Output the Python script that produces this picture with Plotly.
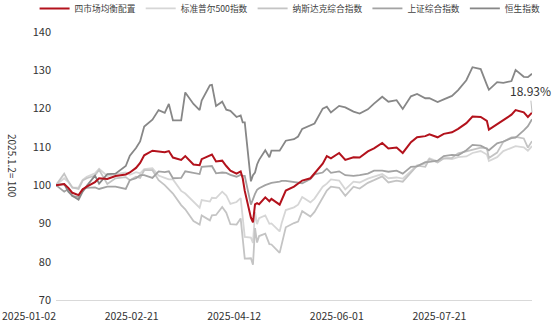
import plotly.graph_objects as go

dates = [
    "2025-01-02", "2025-01-06", "2025-01-08", "2025-01-10", "2025-01-13", "2025-01-15", "2025-01-17",
    "2025-01-21", "2025-01-23", "2025-01-27", "2025-01-31", "2025-02-05", "2025-02-07", "2025-02-10",
    "2025-02-12", "2025-02-14", "2025-02-18", "2025-02-21", "2025-02-24", "2025-02-26", "2025-02-28",
    "2025-03-04", "2025-03-06", "2025-03-10", "2025-03-13", "2025-03-14", "2025-03-18", "2025-03-19",
    "2025-03-21", "2025-03-24", "2025-03-26", "2025-03-28", "2025-03-31", "2025-04-02", "2025-04-03",
    "2025-04-04", "2025-04-07", "2025-04-08", "2025-04-09", "2025-04-10", "2025-04-11", "2025-04-14",
    "2025-04-16", "2025-04-17", "2025-04-21", "2025-04-22", "2025-04-24", "2025-04-28", "2025-04-30",
    "2025-05-02", "2025-05-06", "2025-05-08", "2025-05-12", "2025-05-14", "2025-05-16", "2025-05-20",
    "2025-05-23", "2025-05-27", "2025-05-30", "2025-06-03", "2025-06-06", "2025-06-10", "2025-06-13",
    "2025-06-17", "2025-06-20", "2025-06-24", "2025-06-27", "2025-07-01", "2025-07-03", "2025-07-07",
    "2025-07-10", "2025-07-14", "2025-07-17", "2025-07-21", "2025-07-24", "2025-07-28", "2025-07-31",
    "2025-08-01", "2025-08-05", "2025-08-08", "2025-08-12", "2025-08-14", "2025-08-18", "2025-08-20",
    "2025-08-22",
]

balanced = [
    100.0, 100.3, 99.3, 98.0, 97.4, 98.9, 99.6,
    100.8, 101.8, 101.6, 102.4, 102.8, 103.3, 104.5,
    105.8, 107.8, 109.0, 108.8, 108.6, 108.9, 107.2,
    106.6, 107.6, 105.4, 105.2, 106.8, 107.8, 108.0,
    106.2, 106.4, 105.0, 103.8, 103.0, 103.6, 101.8,
    98.5, 91.5, 90.3, 95.0, 95.3, 95.0, 96.8,
    95.8, 96.4, 94.9, 96.2, 98.6, 99.6, 100.4,
    101.2, 101.8, 103.0, 105.6, 107.6, 107.0, 108.4,
    106.6, 107.3, 107.2, 108.8, 109.6, 111.0, 109.6,
    109.8, 108.4, 111.2, 112.5, 112.8, 113.3, 112.5,
    113.4, 113.8, 114.7, 116.2, 117.9, 117.8, 116.8,
    114.5, 116.0, 117.0, 118.4, 119.6, 119.0, 117.8,
    118.93,
]

sp500 = [
    100.0, 101.8, 100.8, 99.3, 99.4, 101.4, 102.2,
    103.1, 104.3, 102.4, 102.9, 103.3, 102.7, 103.4,
    103.1, 104.2, 104.4, 102.5, 101.9, 101.5, 101.5,
    98.5, 97.8, 95.7, 94.1, 96.1, 95.7, 96.7,
    96.6, 98.3, 97.3, 95.1, 95.6, 96.6, 92.0,
    86.5, 86.3, 84.9, 93.0, 89.8, 91.4, 92.1,
    89.9, 90.0, 87.9, 90.1, 93.5, 94.2, 94.9,
    96.9, 95.5, 96.5, 99.6, 100.4, 101.5, 101.2,
    98.9, 100.9, 100.7, 101.7, 102.2, 102.9, 101.8,
    102.0, 101.7, 103.8, 105.2, 105.6, 107.0, 106.2,
    107.0, 106.8, 107.3, 107.5, 108.4, 108.9, 108.0,
    106.3, 107.3, 108.9, 109.8, 110.2, 109.9, 109.0,
    110.2,
]

nasdaq = [
    100.0, 103.0, 101.0, 99.4, 99.0, 101.2, 101.8,
    102.5, 104.0, 100.3, 101.8, 102.1, 101.3, 102.2,
    101.9, 103.9, 103.9, 101.3, 100.0, 98.9, 97.8,
    94.8, 93.7, 90.6, 89.7, 92.1, 90.8, 92.1,
    92.2, 94.3, 92.8, 89.8, 89.7, 91.3, 85.8,
    80.8, 80.9, 79.2, 88.8, 85.0, 86.7, 87.3,
    84.6, 84.5, 82.3, 84.5, 89.0, 90.1, 90.5,
    93.2, 91.8, 93.0, 97.0, 98.6, 99.6, 99.3,
    97.2, 99.6, 99.1, 100.6, 101.3, 102.3, 100.7,
    101.2, 100.9, 103.3, 105.1, 104.8, 106.8, 105.9,
    107.0, 107.1, 108.3, 108.8, 109.2, 109.8, 109.6,
    107.1, 108.5, 111.3, 112.5, 112.6, 112.2, 109.8,
    111.5,
]

sse = [
    100.0, 98.3, 99.0, 97.1, 96.9, 98.9, 99.3,
    99.4, 99.0, 99.6, 99.6, 99.0, 101.3, 101.8,
    102.6, 102.6, 101.9, 103.6, 103.4, 103.6, 101.8,
    101.9, 103.6, 103.2, 102.9, 104.8, 105.1, 105.0,
    103.1, 103.3, 103.2, 102.7, 102.2, 102.7, 102.4,
    102.4, 94.9, 96.4, 97.7, 98.8, 99.2, 100.0,
    100.4, 100.6, 100.9, 101.1, 101.1, 100.8, 100.5,
    100.5, 101.6, 102.8, 103.3, 104.3, 103.2, 103.6,
    102.6, 102.4, 102.6, 103.0, 103.8, 103.8, 103.5,
    103.8, 103.0, 104.8, 104.9, 106.0, 106.1, 106.4,
    107.6, 107.9, 107.8, 109.1, 110.5, 110.3, 109.5,
    109.1, 110.9, 111.4, 112.3, 112.4, 114.3, 115.4,
    117.2,
]

hsi = [
    100.0, 100.3, 98.3, 97.2, 96.2, 98.3, 99.8,
    102.5, 100.4, 102.9, 103.0, 105.0, 107.7, 109.7,
    111.4, 115.3, 117.1, 119.6, 118.9, 121.2, 116.9,
    116.9, 124.2, 121.2, 119.6, 122.1, 126.1, 126.2,
    120.7, 121.8, 119.7, 119.4, 117.8, 118.2, 116.4,
    116.4, 101.0, 102.6, 103.3, 105.4, 106.6, 109.1,
    107.3, 109.0, 109.0, 109.9, 111.6, 112.0, 112.7,
    114.7, 115.5, 116.1, 120.0, 120.5, 119.0, 120.7,
    120.3, 119.2, 118.7, 119.8, 121.3, 123.1, 121.8,
    122.2, 119.9, 123.2, 123.8, 122.7, 122.7, 121.7,
    122.4, 123.3, 124.8, 127.4, 130.8, 130.3, 126.2,
    124.9, 126.9, 126.7, 127.2, 130.1, 128.3, 128.2,
    129.1,
]

tick_dates = ["2025-01-02", "2025-02-21", "2025-04-12", "2025-06-01", "2025-07-21"]
y_ticks = [70, 80, 90, 100, 110, 120, 130, 140]

series = [
    ("四市场均衡配置", balanced, "#b3121c", 2.0, 1),
    ("标准普尔500指数", sp500, "#d6d6d6", 1.8, 2),
    ("纳斯达克综合指数", nasdaq, "#c4c4c4", 1.8, 3),
    ("上证综合指数", sse, "#a3a3a3", 1.8, 4),
    ("恒生指数", hsi, "#878787", 1.8, 5),
]

FONT = "Noto Sans CJK SC"

fig = go.Figure()
# draw grey series first, red on top
for name, vals, color, width, rank in series[1:] + series[:1]:
    fig.add_trace(go.Scatter(
        x=dates, y=vals, name=name, mode="lines",
        line=dict(color=color, width=width),
        legendrank=rank,
    ))

fig.add_annotation(
    x=dates[-1], y=balanced[-1], xref="x", yref="y",
    text="18.93%", showarrow=True, arrowhead=0, arrowwidth=1,
    arrowcolor="#bfbfbf", ax=-2, ay=-22,
    font=dict(family=FONT, size=12, color="#333333"),
)

fig.add_annotation(
    x=0, xref="paper", xshift=-43, y=0.5, yref="paper",
    text="2025.1.2= 100", textangle=90, showarrow=False,
    xanchor="center", yanchor="middle",
    font=dict(family=FONT, size=10, color="#333333"),
)

fig.update_layout(
    width=554, height=326,
    margin=dict(l=56, r=22, t=32, b=26, autoexpand=False),
    paper_bgcolor="white", plot_bgcolor="white",
    font=dict(family=FONT, size=11, color="#333333"),
    showlegend=True,
    legend=dict(
        orientation="h", xref="paper", yref="paper",
        x=-0.045, xanchor="left", y=1.034, yanchor="bottom",
        font=dict(family=FONT, size=8.7, color="#404040"),
        itemwidth=30, tracegroupgap=0, bgcolor="rgba(0,0,0,0)",
    ),
    xaxis=dict(
        type="date", range=[dates[0], dates[-1]],
        tickvals=tick_dates, ticktext=tick_dates,
        showgrid=False, zeroline=False, automargin=False,
        showline=True, linecolor="#d9d9d9", linewidth=1,
        ticks="", ticklabelshift=-27, ticklabelstandoff=6,
        tickfont=dict(family=FONT, size=10.5, color="#333333"),
    ),
    yaxis=dict(
        range=[70, 140], tickvals=y_ticks, automargin=False,
        showgrid=False, zeroline=False, showline=False,
        tickfont=dict(family=FONT, size=11, color="#333333"),
        ticks="", ticklabelstandoff=4,
    ),
)

fig.write_html("out.html")
